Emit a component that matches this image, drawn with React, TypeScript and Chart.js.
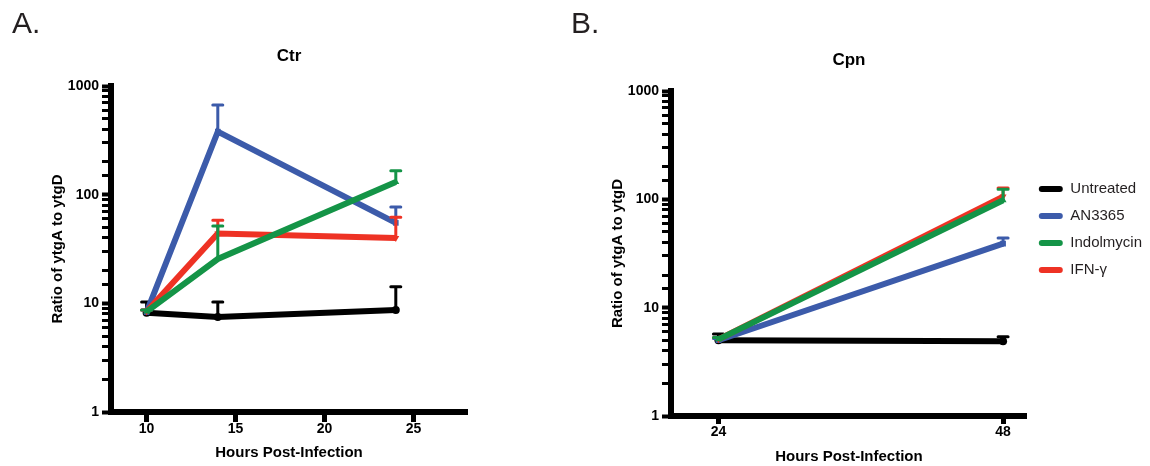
import React, { useEffect, useRef } from 'react';
import { Chart, registerables } from 'chart.js';

Chart.register(...registerables);

// ---------- data ----------
const seriesNames = ['Untreated', 'AN3365', 'Indolmycin', 'IFN-γ'];
const seriesColors = ['#000000', '#3C5BAA', '#149447', '#EE3224'];
const seriesPointStyles = ['circle', 'rect', 'triangle', 'triangle'];
const seriesPointRotation = [0, 0, 0, 180];
const seriesDrawOrder = [3, 2, 0, 1];

const ctrHours = [10, 14, 24];
const ctrUntreated = [8.2, 7.5, 8.7];
const ctrUntreatedErr = [2.1, 2.8, 5.5];
const ctrAN3365 = [8.3, 380, 55];
const ctrAN3365Err = [0.4, 290, 22];
const ctrIndolmycin = [8.4, 25.6, 131];
const ctrIndolmycinErr = [0.3, 26, 35];
const ctrIFN = [8.4, 44, 40];
const ctrIFNErr = [0.3, 14, 22];
const ctrXTicks = [10, 15, 20, 25];

const cpnHours = [24, 48];
const cpnUntreated = [5.0, 4.9];
const cpnUntreatedErr = [0.7, 0.5];
const cpnAN3365 = [5.0, 39];
const cpnAN3365Err = [0.2, 5];
const cpnIndolmycin = [5.1, 98];
const cpnIndolmycinErr = [0.2, 26];
const cpnIFN = [5.1, 106];
const cpnIFNErr = [0.2, 21];
const cpnXTicks = [24, 48];

const yMin = 1;
const yMax = 1000;

const FONT = "'Liberation Sans', Arial, Helvetica, sans-serif";
const INK = '#000000';

// ---------- error bar plugin ----------
const errorBarPlugin = {
  id: 'errorBars',
  afterDatasetDraw(chart: any, args: any) {
    const ds = chart.data.datasets[args.index];
    const errs: number[] | undefined = ds.errors;
    if (!errs) return;
    const yScale = chart.scales.y;
    const ctx = chart.ctx;
    ctx.save();
    ctx.strokeStyle = ds.borderColor;
    ctx.lineWidth = 3;
    ctx.lineCap = 'round';
    args.meta.data.forEach((pt: any, i: number) => {
      const v = ds.data[i].y;
      const e = errs[i];
      if (!e) return;
      const yTop = yScale.getPixelForValue(v + e);
      ctx.beginPath();
      ctx.moveTo(pt.x, pt.y);
      ctx.lineTo(pt.x, yTop);
      ctx.moveTo(pt.x - 5, yTop);
      ctx.lineTo(pt.x + 5, yTop);
      ctx.stroke();
    });
    ctx.restore();
  },
};

function isDecade(v: number) {
  const l = Math.log10(v);
  return Math.abs(l - Math.round(l)) < 1e-9;
}

type PanelOpts = {
  title: string;
  hours: number[];
  values: number[][];
  errors: number[][];
  xTicks: number[];
  xMin: number;
  xMax: number;
  legend: boolean;
  titlePadTop: number;
  titlePadBottom: number;
  xHeight: number;
  xTickLen: number;
  xTickPad: number;
  xTitlePadBottom: number;
  padding: { left: number; right: number; top: number; bottom: number };
};

function buildConfig(o: PanelOpts): any {
  const datasets = seriesNames.map((name, s) => ({
    label: name,
    data: o.hours.map((h, i) => ({ x: h, y: o.values[s][i] })),
    errors: o.errors[s],
    borderColor: seriesColors[s],
    backgroundColor: seriesColors[s],
    borderWidth: 6,
    pointStyle: seriesPointStyles[s],
    rotation: seriesPointRotation[s],
    pointRadius: 4,
    pointBorderWidth: 0,
    pointBackgroundColor: seriesColors[s],
    tension: 0,
    order: seriesDrawOrder[s],
  }));

  return {
    type: 'line',
    data: { datasets },
    plugins: [errorBarPlugin],
    options: {
      responsive: false,
      animation: false,
      events: [],
      layout: { padding: o.padding },
      plugins: {
        tooltip: { enabled: false },
        title: {
          display: true,
          text: o.title,
          fullSize: false,
          color: INK,
          font: { family: FONT, size: 17, weight: 'bold', lineHeight: 1.2 },
          padding: { top: o.titlePadTop, bottom: o.titlePadBottom },
        },
        legend: {
          display: o.legend,
          position: 'right',
          align: 'center',
          labels: {
            boxWidth: 24,
            boxHeight: 6,
            padding: 12,
            color: '#231F20',
            font: { family: FONT, size: 15 },
            generateLabels: (chart: any) =>
              chart.data.datasets.map((ds: any, i: number) => ({
                text: ds.label,
                fillStyle: ds.borderColor,
                strokeStyle: ds.borderColor,
                lineWidth: 0,
                borderRadius: 3,
                hidden: false,
                datasetIndex: i,
                fontColor: '#231F20',
              })),
          },
        },
      },
      scales: {
        x: {
          type: 'linear',
          min: o.xMin,
          max: o.xMax,
          afterBuildTicks: (scale: any) => {
            scale.ticks = o.xTicks.map((v) => ({ value: v }));
          },
          afterFit: (scale: any) => {
            scale.height = o.xHeight;
          },
          border: { display: true, width: 6, color: INK },
          grid: {
            display: true,
            drawOnChartArea: false,
            drawTicks: true,
            tickLength: o.xTickLen,
            tickWidth: 5,
            tickColor: INK,
          },
          ticks: {
            autoSkip: false,
            maxRotation: 0,
            padding: o.xTickPad,
            color: INK,
            font: { family: FONT, size: 14, weight: 'bold', lineHeight: 1 },
          },
          title: {
            display: true,
            text: 'Hours Post-Infection',
            color: INK,
            font: { family: FONT, size: 15, weight: 'bold', lineHeight: 1.2 },
            padding: { top: 0, bottom: o.xTitlePadBottom },
          },
        },
        y: {
          type: 'logarithmic',
          min: yMin,
          max: yMax,
          afterFit: (scale: any) => {
            scale.width = 81;
          },
          border: { display: true, width: 6, color: INK },
          grid: {
            display: true,
            drawOnChartArea: false,
            drawTicks: true,
            tickLength: 9,
            tickWidth: (ctx: any) => (ctx.tick && isDecade(ctx.tick.value) ? 4 : 3),
            tickColor: INK,
          },
          ticks: {
            autoSkip: false,
            padding: 3,
            color: INK,
            font: { family: FONT, size: 14, weight: 'bold' },
            callback: (v: any) => (isDecade(Number(v)) ? String(v) : ''),
          },
          title: {
            display: true,
            text: 'Ratio of ytgA to ytgD',
            color: INK,
            font: { family: FONT, size: 15, weight: 'bold', lineHeight: 1.2 },
            padding: { top: 19, bottom: 0 },
          },
        },
      },
    },
  };
}

function Panel(props: { cfg: any; left: number; width: number }) {
  const ref = useRef<HTMLCanvasElement | null>(null);
  useEffect(() => {
    if (!ref.current) return;
    const chart = new Chart(ref.current, props.cfg);
    return () => chart.destroy();
  }, []);
  return (
    <canvas
      ref={ref}
      width={props.width}
      height={466}
      style={{ position: 'absolute', left: props.left, top: 0, width: props.width, height: 466 }}
    />
  );
}

const ctrConfig = buildConfig({
  title: 'Ctr',
  hours: ctrHours,
  values: [ctrUntreated, ctrAN3365, ctrIndolmycin, ctrIFN],
  errors: [ctrUntreatedErr, ctrAN3365Err, ctrIndolmycinErr, ctrIFNErr],
  xTicks: ctrXTicks,
  xMin: 8,
  xMax: 28,
  legend: false,
  titlePadTop: 46.5,
  titlePadBottom: 19.1,
  xHeight: 54,
  xTickLen: 10,
  xTickPad: 0,
  xTitlePadBottom: 4,
  padding: { left: 30, right: 93, top: 0, bottom: 0 },
});

const cpnConfig = buildConfig({
  title: 'Cpn',
  hours: cpnHours,
  values: [cpnUntreated, cpnAN3365, cpnIndolmycin, cpnIFN],
  errors: [cpnUntreatedErr, cpnAN3365Err, cpnIndolmycinErr, cpnIFNErr],
  xTicks: cpnXTicks,
  xMin: 20,
  xMax: 50,
  legend: true,
  titlePadTop: 50.5,
  titlePadBottom: 20.1,
  xHeight: 43,
  xTickLen: 8,
  xTickPad: 1,
  xTitlePadBottom: -7,
  padding: { left: 30, right: -2, top: 0, bottom: 7 },
});

export default function App() {
  const letter: React.CSSProperties = {
    position: 'absolute',
    top: 8,
    fontFamily: FONT,
    fontSize: 30,
    lineHeight: '30px',
    color: '#231F20',
  };
  return (
    <div
      style={{
        position: 'absolute',
        left: 0,
        top: 0,
        width: 1150,
        height: 466,
        overflow: 'hidden',
        background: '#ffffff',
      }}
    >
      <Panel cfg={ctrConfig} left={0} width={560} />
      <Panel cfg={cpnConfig} left={560} width={590} />
      <div style={{ ...letter, left: 12 }}>A.</div>
      <div style={{ ...letter, left: 571 }}>B.</div>
    </div>
  );
}
